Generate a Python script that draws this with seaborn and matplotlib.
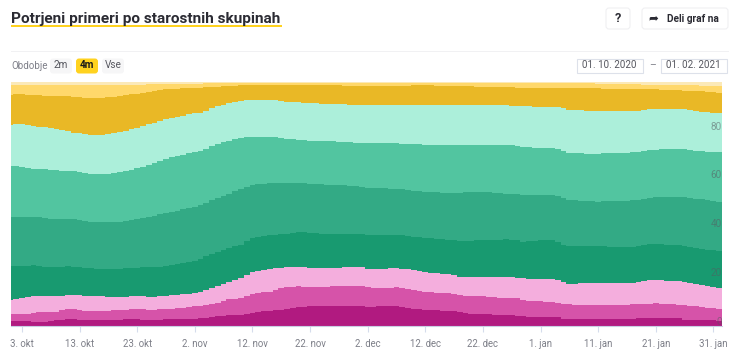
import matplotlib
matplotlib.use("Agg")
import matplotlib.pyplot as plt
import seaborn as sns
import pandas as pd
from matplotlib.patches import FancyBboxPatch, Rectangle

# Top edge of every stacked layer (percent), one value per day, bottom layer first
top_1 = [2.2,2.2,2.0,1.9,1.8,1.8,1.8,2.0,2.4,2.5,
         2.9,2.8,2.5,2.5,2.5,2.4,2.4,2.4,2.4,2.5,
         2.9,2.9,2.9,2.6,2.6,2.5,2.5,2.9,2.9,2.9,
         2.9,2.9,3.0,3.2,3.4,3.6,3.9,4.2,4.4,4.5,
         4.6,5.0,5.5,5.8,6.1,6.3,6.5,6.7,7.1,7.4,
         7.7,7.9,8.0,8.0,8.0,8.2,8.2,8.2,8.2,8.2,
         8.2,8.1,7.9,7.9,8.1,8.2,8.2,8.0,7.7,7.5,
         7.0,6.8,6.6,6.4,6.4,6.3,6.3,6.0,5.7,5.3,
         5.1,5.0,4.9,4.8,4.6,4.5,4.5,4.5,4.3,4.0,
         3.7,3.6,3.6,3.6,3.6,3.5,2.9,2.9,2.9,2.9,
         2.9,2.9,2.9,2.9,2.9,2.9,3.0,3.0,3.0,3.1,
         3.1,3.2,3.2,3.2,3.2,3.2,3.2,2.5,2.4,2.4,
         2.3,2.3,2.3,2.2]
top_2 = [5.1,5.0,4.9,5.1,5.5,5.6,5.8,5.8,5.9,6.4,
         6.9,6.8,6.6,6.3,6.3,6.3,6.3,6.3,6.4,6.4,
         6.7,6.9,7.0,6.9,6.7,6.7,6.8,6.9,7.1,7.3,
         7.5,7.7,8.0,8.3,8.7,9.0,9.6,10.3,11.0,11.2,
         11.4,12.5,13.2,13.5,13.8,14.1,14.8,15.5,15.9,16.1,
         16.3,16.1,15.9,15.9,16.0,16.0,16.2,16.2,16.5,16.5,
         16.4,16.3,15.8,15.7,15.5,15.5,15.7,15.9,15.5,15.1,
         14.8,14.4,14.1,13.9,13.7,13.5,13.4,13.0,12.6,12.2,
         12.1,12.1,12.1,11.9,11.7,11.5,11.5,11.5,11.3,10.8,
         10.4,10.3,10.2,10.0,9.9,9.6,9.0,8.9,8.8,8.7,
         8.7,8.6,8.6,8.6,8.7,8.7,8.8,8.8,8.9,9.0,
         9.1,9.2,9.3,9.2,9.0,8.9,8.7,8.5,8.3,8.0,
         7.8,7.5,7.2,7.0]
top_3 = [10.7,11.1,11.5,11.8,12.1,12.1,12.1,12.1,12.1,12.5,
         12.8,12.8,12.7,12.5,12.4,12.3,12.1,11.9,11.8,11.9,
         12.0,12.1,12.2,12.1,11.9,12.0,12.1,12.5,12.6,12.8,
         13.0,13.2,13.6,14.1,14.8,15.5,16.3,17.3,18.2,18.9,
         19.6,21.0,22.2,22.6,23.0,23.3,23.6,23.9,24.0,24.1,
         24.3,24.0,23.7,23.7,23.8,23.8,23.9,23.9,24.1,24.1,
         24.0,24.0,23.5,23.3,23.2,23.3,23.6,23.6,23.5,23.2,
         22.8,22.4,22.1,21.9,21.7,21.5,21.3,20.9,20.2,20.1,
         20.0,19.9,19.9,20.0,20.0,20.0,20.0,20.0,19.8,19.5,
         19.2,19.2,19.3,19.3,19.3,18.8,18.0,17.3,17.4,17.5,
         17.6,17.7,17.7,17.7,17.7,17.8,17.8,17.8,17.8,18.2,
         18.6,18.9,18.9,18.7,18.6,18.5,18.4,18.0,17.6,17.1,
         16.8,16.4,16.0,15.5]
top_4 = [24.4,24.4,24.5,24.7,24.8,24.5,24.0,24.0,24.2,24.3,
         24.4,24.3,24.0,23.7,23.6,23.5,23.3,23.3,23.4,23.5,
         23.7,23.9,23.9,24.0,24.0,24.1,24.2,24.4,24.8,25.3,
         25.8,26.3,26.7,27.6,28.5,29.4,30.3,31.2,32.0,32.7,
         33.3,34.8,36.1,36.5,36.8,37.1,37.4,37.6,37.9,38.3,
         38.7,38.5,38.2,38.0,37.9,37.9,37.9,37.9,37.9,37.9,
         37.9,37.7,37.4,37.3,37.3,37.3,37.3,37.3,37.2,36.9,
         36.6,36.4,36.1,35.9,35.7,35.5,35.4,35.2,35.0,34.8,
         35.0,35.2,35.4,35.4,35.4,35.4,35.5,35.4,35.1,34.6,
         34.7,34.9,35.1,35.3,35.2,34.4,33.4,32.6,32.7,32.8,
         32.8,32.8,32.7,32.6,32.5,32.4,32.4,32.4,32.4,32.7,
         33.1,33.5,33.6,33.5,33.4,33.3,33.2,32.9,32.5,32.0,
         31.5,31.3,31.1,30.9]
top_5 = [44.6,44.5,44.6,44.7,44.7,44.6,44.2,43.9,43.9,44.0,
         44.0,44.0,43.6,43.2,42.8,42.5,42.5,42.6,42.7,42.8,
         43.1,43.4,43.8,44.2,44.7,45.2,45.8,46.4,46.9,47.3,
         47.8,48.3,48.8,49.7,50.6,51.5,52.4,53.4,54.3,55.3,
         56.2,56.9,57.7,58.3,58.4,58.5,58.5,58.6,58.6,58.7,
         58.7,58.5,58.2,58.1,58.0,57.9,57.8,57.7,57.6,57.5,
         57.3,57.1,56.7,56.6,56.5,56.4,56.2,56.1,56.0,55.8,
         55.5,55.3,55.1,55.0,54.8,54.7,54.6,54.6,54.7,54.8,
         54.8,54.9,54.9,54.8,54.6,54.4,54.2,54.0,53.9,53.8,
         53.8,53.7,53.6,53.5,53.5,53.3,52.6,51.6,51.5,51.4,
         51.2,51.1,51.0,51.1,51.1,51.2,51.3,51.4,51.5,51.8,
         52.2,52.6,52.8,52.9,52.9,53.0,53.0,53.0,52.6,52.2,
         51.9,51.5,51.2,51.0]
top_6 = [65.6,65.4,65.2,64.9,64.5,64.4,64.2,64.0,63.8,63.7,
         63.6,63.4,63.1,62.8,62.4,62.3,62.3,62.5,62.8,63.1,
         63.6,64.1,64.7,65.3,66.0,66.8,67.6,68.4,69.1,69.7,
         70.2,70.7,71.2,71.7,72.7,73.7,74.7,75.5,76.0,76.5,
         77.0,77.4,77.4,77.4,77.4,77.4,77.4,77.0,76.7,76.5,
         76.3,76.2,76.0,75.9,75.8,75.8,75.7,75.6,75.5,75.4,
         75.2,75.1,75.0,75.0,74.9,74.9,74.9,74.8,74.7,74.6,
         74.5,74.4,74.3,74.2,74.2,74.2,74.2,74.1,74.1,74.1,
         74.1,74.1,74.1,74.2,74.2,74.3,74.2,74.0,73.8,73.5,
         73.3,73.1,73.0,72.9,72.8,72.7,71.8,70.9,70.8,70.7,
         70.6,70.6,70.6,70.7,70.8,70.9,71.0,71.1,71.3,71.5,
         71.7,72.0,72.2,72.4,72.4,72.4,72.4,72.4,72.2,71.9,
         71.6,71.5,71.4,71.3]
top_7 = [82.3,82.6,82.8,82.4,81.9,81.7,81.4,81.1,80.8,80.3,
         79.8,79.3,79.0,78.7,78.4,78.3,78.3,78.5,78.9,79.4,
         80.0,80.6,81.3,82.0,82.7,83.4,84.1,84.8,85.3,85.8,
         86.2,86.7,87.1,87.5,88.3,89.2,90.0,90.7,91.2,91.7,
         92.2,92.6,92.6,92.6,92.6,92.6,92.6,92.3,92.0,91.8,
         91.6,91.5,91.3,91.2,91.1,91.0,91.0,90.9,90.8,90.7,
         90.6,90.5,90.5,90.5,90.5,90.5,90.5,90.5,90.5,90.5,
         90.6,90.6,90.6,90.6,90.6,90.6,90.7,90.7,90.7,90.7,
         90.7,90.7,90.7,90.6,90.5,90.5,90.4,90.3,90.2,90.1,
         90.0,89.9,89.9,89.8,89.8,89.6,89.2,88.6,88.5,88.4,
         88.3,88.2,88.1,88.0,88.0,88.0,88.0,88.0,88.0,88.3,
         88.5,88.8,88.9,88.9,88.9,88.9,88.9,88.8,88.4,88.1,
         87.8,87.6,87.5,87.4]
top_8 = [94.8,95.0,95.1,94.8,94.5,94.5,94.4,94.3,94.3,94.2,
         94.1,94.0,93.8,93.6,93.4,93.3,93.4,93.7,94.0,94.3,
         94.6,94.9,95.1,95.3,95.8,96.2,96.7,97.1,97.2,97.3,
         97.4,97.5,97.6,97.7,97.8,98.0,98.1,98.2,98.3,98.5,
         98.6,98.8,98.9,98.9,98.9,98.9,98.9,98.9,98.9,98.8,
         98.8,98.8,98.7,98.7,98.7,98.6,98.6,98.6,98.5,98.5,
         98.5,98.5,98.4,98.4,98.4,98.5,98.5,98.5,98.5,98.5,
         98.6,98.6,98.6,98.6,98.5,98.5,98.4,98.4,98.3,98.2,
         98.2,98.1,98.0,98.0,97.9,97.9,97.8,97.8,97.7,97.7,
         97.7,97.6,97.6,97.6,97.6,97.5,97.5,97.5,97.5,97.5,
         97.4,97.4,97.4,97.3,97.3,97.3,97.2,97.2,97.2,97.1,
         97.1,97.0,97.0,96.9,96.8,96.7,96.6,96.5,96.4,96.3,
         96.2,96.0,95.8,95.5]
top_9 = [98.9,98.9,98.9,98.9,98.9,98.9,98.9,98.9,98.9,98.9,
         98.9,98.9,98.9,98.9,98.9,98.9,98.9,98.9,98.9,98.9,
         98.9,98.9,98.9,98.9,99.0,99.0,99.0,99.1,99.1,99.2,
         99.2,99.3,99.3,99.3,99.4,99.4,99.4,99.5,99.5,99.5,
         99.5,99.5,99.5,99.5,99.5,99.5,99.5,99.5,99.5,99.5,
         99.5,99.5,99.5,99.5,99.5,99.5,99.5,99.5,99.5,99.5,
         99.5,99.5,99.5,99.5,99.5,99.5,99.5,99.5,99.5,99.5,
         99.5,99.5,99.5,99.5,99.5,99.5,99.5,99.5,99.5,99.5,
         99.5,99.5,99.5,99.5,99.5,99.5,99.5,99.5,99.5,99.5,
         99.5,99.5,99.5,99.5,99.5,99.4,99.4,99.4,99.4,99.4,
         99.4,99.4,99.3,99.3,99.3,99.3,99.2,99.2,99.1,99.0,
         98.8,98.8,98.8,98.8,98.7,98.7,98.7,98.6,98.6,98.6,
         98.5,98.5,98.5,98.5]
top_10 = [100.0] * 124

layer_tops = [top_1, top_2, top_3, top_4, top_5, top_6, top_7, top_8, top_9, top_10]
layer_colors = ["#B11A80", "#D653A9", "#F4AEDD", "#189A70", "#33AA85",
                "#52C5A0", "#ACEFDA", "#E9B826", "#FFD86B", "#FBE9B8"]

days = pd.date_range("2020-10-01", "2021-02-01").strftime("%Y-%m-%d")
tick_days = ["2020-10-03", "2020-10-13", "2020-10-23", "2020-11-02", "2020-11-12", "2020-11-22", "2020-12-02",
             "2020-12-12", "2020-12-22", "2021-01-01", "2021-01-11", "2021-01-21", "2021-01-31"]
tick_labels = ["3. okt", "13. okt", "23. okt", "2. nov", "12. nov", "22. nov", "2. dec",
               "12. dec", "22. dec", "1. jan", "11. jan", "21. jan", "31. jan"]
y_ticks = [0, 20, 40, 60, 80]

c_text = "#2B2B33"
c_grey = "#7D7F88"
c_line = "#F1F1F3"
c_yellow = "#FFD21F"
c_box = "#DDE1EA"
font = "Roboto"

sns.set_theme(style="white")
plt.rcParams["font.family"] = font

fig = plt.figure(figsize=(7.36, 3.6), dpi=100)
ax = fig.add_axes([11 / 736, 34 / 360, 711 / 736, 244 / 360])

# tallest layer first, each next one paints over it
for top, color in zip(layer_tops[::-1], layer_colors[::-1]):
    df = pd.DataFrame({"day": days, "top": top})
    sns.barplot(data=df, x="day", y="top", color=color, width=1, saturation=1,
                errorbar=None, ax=ax, linewidth=0)

ax.set_xlim(0.1, 123.5)
ax.set_ylim(0, 100)
ax.set_xlabel("")
ax.set_ylabel("")
ax.set_xticks([list(days).index(d) for d in tick_days])
ax.set_xticklabels(tick_labels, fontsize=6.9, color=c_grey)
ax.tick_params(axis="x", length=4.5, width=0.8, color="#D5DCEC", pad=5, bottom=True)
ax.set_yticks([])
sns.despine(ax=ax, left=True, right=True, top=True)
ax.spines["bottom"].set_color("#C9CFE3")
ax.spines["bottom"].set_linewidth(0.8)

# value labels sit inside the plot, just above their level
for v in y_ticks:
    ax.annotate(str(v), (1, v), xycoords=("axes fraction", "data"), xytext=(0, 3), textcoords="offset points",
                ha="right", va="center", fontsize=7.2, color="#555B60", alpha=0.55)

# page furniture in pixel coordinates
ui = fig.add_axes([0, 0, 1, 1], zorder=-1)
ui.set_xlim(0, 736)
ui.set_ylim(360, 0)
ui.axis("off")


def box(x0, y0, x1, y1, face="white", edge="none", r=3, lw=0.8):
    ui.add_patch(FancyBboxPatch((x0 + r, y0 + r), x1 - x0 - 2 * r, y1 - y0 - 2 * r,
                                boxstyle=f"round,pad={r},rounding_size={r}", fc=face, ec=edge, lw=lw))


ui.text(11, 18.5, "Potrjeni primeri po starostnih skupinah", fontsize=11.1, fontweight="bold",
        color=c_text, ha="left", va="center")
ui.add_patch(Rectangle((11, 25), 271, 2, fc=c_yellow, ec="none"))
ui.add_patch(Rectangle((11, 50.5), 718, 1.3, fc=c_line, ec="none"))

box(606, 8, 630, 29, edge="#F0F0F2")
ui.text(618, 18.5, "?", fontsize=9, fontweight="bold", color=c_text, ha="center", va="center")
box(642, 8, 728, 29, edge="#F0F0F2")
ui.text(653, 18, "\u27a6", fontsize=8.5, color=c_text, ha="center", va="center", family="DejaVu Sans")
ui.text(667, 18.5, "Deli graf na", fontsize=7.3, fontweight="bold", color=c_text, ha="left", va="center")

ui.text(11, 66, "Obdobje", fontsize=7, color=c_grey, ha="left", va="center")
box(50, 58.5, 72, 73.5, face="#F6F6F7")
ui.text(61, 65.5, "2m", fontsize=7.2, color="#55565E", ha="center", va="center")
box(76, 58.5, 98, 73.5, face=c_yellow)
ui.text(87, 65.5, "4m", fontsize=7.2, fontweight="bold", color="#1A1A1A", ha="center", va="center")
box(102, 58.5, 124, 73.5, face="#F6F6F7")
ui.text(113, 65.5, "Vse", fontsize=7.2, color="#55565E", ha="center", va="center")

ui.add_patch(Rectangle((576.5, 58.5), 66, 14.5, fc="white", ec=c_box, lw=0.8))
ui.text(609.5, 65.5, "01. 10. 2020", fontsize=7.1, color="#55565E", ha="center", va="center")
ui.text(653, 65.5, "\u2013", fontsize=7.5, color=c_grey, ha="center", va="center")
ui.add_patch(Rectangle((660.5, 58.5), 66, 14.5, fc="white", ec=c_box, lw=0.8))
ui.text(693.5, 65.5, "01. 02. 2021", fontsize=7.1, color="#55565E", ha="center", va="center")

fig.savefig("out.png", dpi=100, facecolor="white")
